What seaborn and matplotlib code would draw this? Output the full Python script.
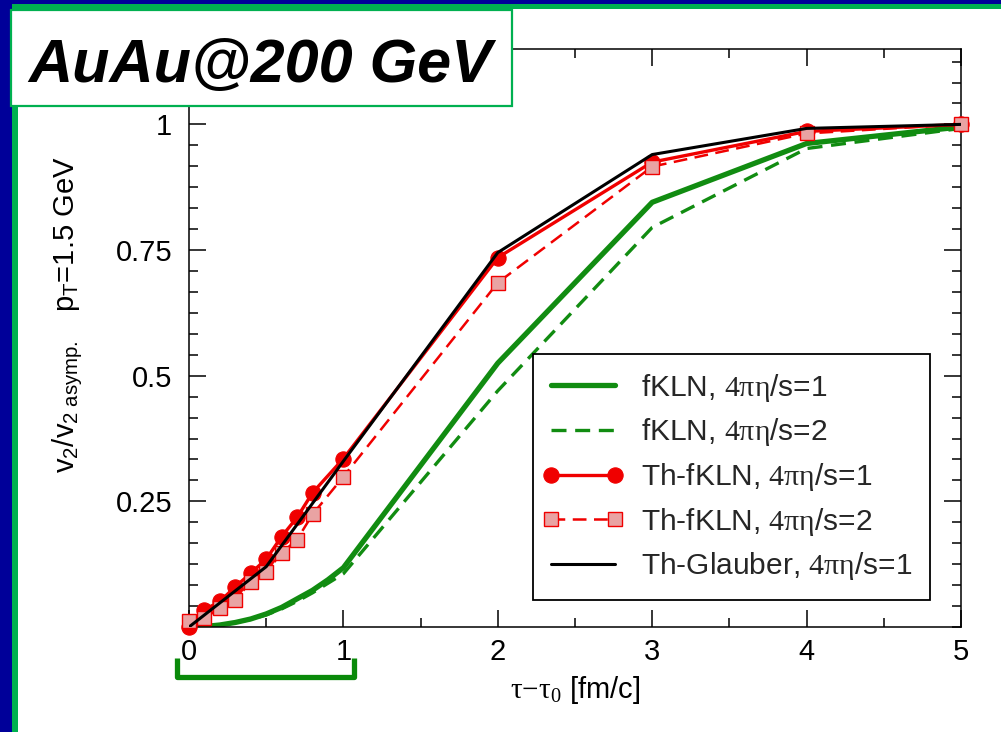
import numpy as np
import pandas as pd
import matplotlib
matplotlib.use("Agg")
import matplotlib.pyplot as plt
import seaborn as sns
from matplotlib.patches import Rectangle
from matplotlib.lines import Line2D
from matplotlib.legend_handler import HandlerLine2D
from matplotlib.ticker import MultipleLocator, FixedLocator, FuncFormatter
import matplotlib.transforms as mtransforms

# ---------------- data ----------------
x_fkln = [0.0, 0.1, 0.2, 0.3, 0.4, 0.5, 0.6, 0.7, 0.8, 0.9, 1.0, 2.0, 3.0, 4.0, 5.0]
fkln_1 = [0.0, 0.001, 0.004, 0.009, 0.016, 0.026, 0.039, 0.056, 0.073, 0.094, 0.118, 0.525, 0.845, 0.962, 0.995]
fkln_2 = [0.0, 0.001, 0.004, 0.009, 0.015, 0.024, 0.036, 0.051, 0.068, 0.087, 0.106, 0.470, 0.795, 0.952, 0.992]

x_th = [0.0, 0.1, 0.2, 0.3, 0.4, 0.5, 0.6, 0.7, 0.8, 1.0, 2.0, 3.0, 4.0, 5.0]
thfkln_1 = [0.0, 0.034, 0.051, 0.080, 0.107, 0.135, 0.180, 0.218, 0.267, 0.335, 0.735, 0.925, 0.986, 1.0]
thfkln_2 = [0.011, 0.018, 0.037, 0.054, 0.090, 0.110, 0.147, 0.174, 0.224, 0.299, 0.685, 0.916, 0.982, 1.0]

x_gl = [0.0, 0.5, 1.0, 2.0, 3.0, 4.0, 5.0]
thglauber_1 = [0.0, 0.12, 0.33, 0.745, 0.94, 0.992, 1.0]

labels = [r"fKLN, $\mathsf{4\pi\eta}$/s=1",
          r"fKLN, $\mathsf{4\pi\eta}$/s=2",
          r"Th-fKLN, $\mathsf{4\pi\eta}$/s=1",
          r"Th-fKLN, $\mathsf{4\pi\eta}$/s=2",
          r"Th-Glauber, $\mathsf{4\pi\eta}$/s=1"]

y_major = [0.25, 0.5, 0.75, 1.0]
x_major = [0, 1, 2, 3, 4, 5]
title_text = "AuAu@200 GeV"

# ---------------- style ----------------
sns.set_theme(style="white")
plt.rcParams['font.family'] = ['Liberation Sans', 'DejaVu Sans']
plt.rcParams['mathtext.fontset'] = 'custom'
plt.rcParams['mathtext.rm'] = 'Liberation Sans'
plt.rcParams['mathtext.it'] = 'Liberation Sans:italic'
plt.rcParams['mathtext.sf'] = 'Liberation Serif'

GREEN = '#118c11'
RED = '#f00000'

fig = plt.figure(figsize=(10.01, 7.32), dpi=100, facecolor='white')
ax = fig.add_axes([189/1001, 1-627/732, (961-189)/1001, (627-49)/732])
ax.set_facecolor('white')

handles = []
sns.lineplot(x=x_fkln, y=fkln_1, ax=ax, color=GREEN, linewidth=3.8,
             estimator=None, sort=False, errorbar=None)
handles.append(ax.lines[-1])
sns.lineplot(x=x_fkln, y=fkln_2, ax=ax, color=GREEN, linewidth=2.4,
             linestyle=(0, (4.5, 2.6)), estimator=None, sort=False, errorbar=None)
handles.append(ax.lines[-1])
sns.lineplot(x=x_th, y=thfkln_1, ax=ax, color=RED, linewidth=2.4, marker='o',
             markersize=11, markerfacecolor=RED, markeredgecolor=RED,
             markeredgewidth=0.8, estimator=None, sort=False, errorbar=None,
             clip_on=False, zorder=3)
handles.append(ax.lines[-1])
sns.lineplot(x=x_th, y=thfkln_2, ax=ax, color=RED, linewidth=1.8,
             linestyle=(0, (5.5, 3.0)), marker='s', markersize=10,
             markerfacecolor='#e9a3a3', markeredgecolor=RED, markeredgewidth=1.0,
             estimator=None, sort=False, errorbar=None, clip_on=False, zorder=4)
handles.append(ax.lines[-1])
sns.lineplot(x=x_gl, y=thglauber_1, ax=ax, color='black', linewidth=2.2,
             estimator=None, sort=False, errorbar=None, zorder=5)
handles.append(ax.lines[-1])

ax.set_xlim(0, 5)
ax.set_ylim(0, 1.15)

ax.xaxis.set_major_locator(FixedLocator(x_major))
ax.xaxis.set_minor_locator(MultipleLocator(0.5))
ax.yaxis.set_major_locator(FixedLocator(y_major))
ax.yaxis.set_minor_locator(MultipleLocator(0.25 / 6))
ax.xaxis.set_major_formatter(FuncFormatter(lambda v, p: f"{v:g}"))
ax.yaxis.set_major_formatter(FuncFormatter(lambda v, p: f"{v:g}"))

ax.tick_params(which='both', direction='in', top=True, right=True,
               bottom=True, left=True, width=1.1, colors='black')
ax.tick_params(which='major', length=12, labelsize=21, pad=8)
ax.tick_params(which='minor', length=6.5)
ax.tick_params(axis='y', which='major', pad=12)
for s in ax.spines.values():
    s.set_color('black')
    s.set_linewidth(1.1)
    s.set_visible(True)

ax.set_xlabel(r"$\mathsf{\tau{-}\tau_0}$ [fm/c]", fontsize=21, color='black', labelpad=6)
ax.set_ylabel(r"$\mathrm{v_2/v_{2\ asymp.}}$   $\mathrm{p_T}$=1.5 GeV", fontsize=21, color='black')
ax.yaxis.set_label_coords(-0.135, 0.54)

leg = ax.legend(handles, labels, loc='lower left', bbox_to_anchor=(0.4456, 0.0467),
                borderaxespad=0, fontsize=21.5, frameon=True, fancybox=False,
                edgecolor='black', facecolor='white', framealpha=1,
                handlelength=2.15, handletextpad=0.85, labelspacing=0.42,
                borderpad=0.6, numpoints=2,
                handler_map={Line2D: HandlerLine2D(marker_pad=0)})
leg.get_frame().set_linewidth(1.3)

# bracket under the axis (annotation)
trans = mtransforms.blended_transform_factory(ax.transData, ax.transAxes)
bx = [-0.08, -0.08, 1.07, 1.07]
by = [-0.054, -0.086, -0.086, -0.054]
ax.add_line(Line2D(bx, by, transform=trans, color='#0a8a0a', linewidth=3.8,
                   clip_on=False, solid_joinstyle='round', solid_capstyle='butt'))

# slide decorations
W, H = 1001, 732
BLUE = '#000099'
SLIDEGREEN = '#00b050'
fig.add_artist(Rectangle((0, 0), 12/W, 1, transform=fig.transFigure,
                         facecolor=BLUE, edgecolor='none', zorder=10))
fig.add_artist(Rectangle((0, 1-3.5/H), 1, 3.5/H, transform=fig.transFigure,
                         facecolor=BLUE, edgecolor='none', zorder=10))
fig.add_artist(Rectangle((12/W, 0), 6/W, 1-3.5/H, transform=fig.transFigure,
                         facecolor=SLIDEGREEN, edgecolor='none', zorder=10))
fig.add_artist(Rectangle((12/W, 1-8.5/H), 1, 5/H, transform=fig.transFigure,
                         facecolor=SLIDEGREEN, edgecolor='none', zorder=10))
fig.add_artist(Rectangle((11/W, 1-106/H), (512-11)/W, (106-10)/H, transform=fig.transFigure,
                         facecolor='white', edgecolor=SLIDEGREEN, linewidth=1.6, zorder=11))
fig.text(260/W, 1-82/H, title_text, fontsize=44, fontweight='bold', fontstyle='italic',
         ha='center', va='baseline', color='black', zorder=12)

fig.savefig('out.png', dpi=100, facecolor='white')
